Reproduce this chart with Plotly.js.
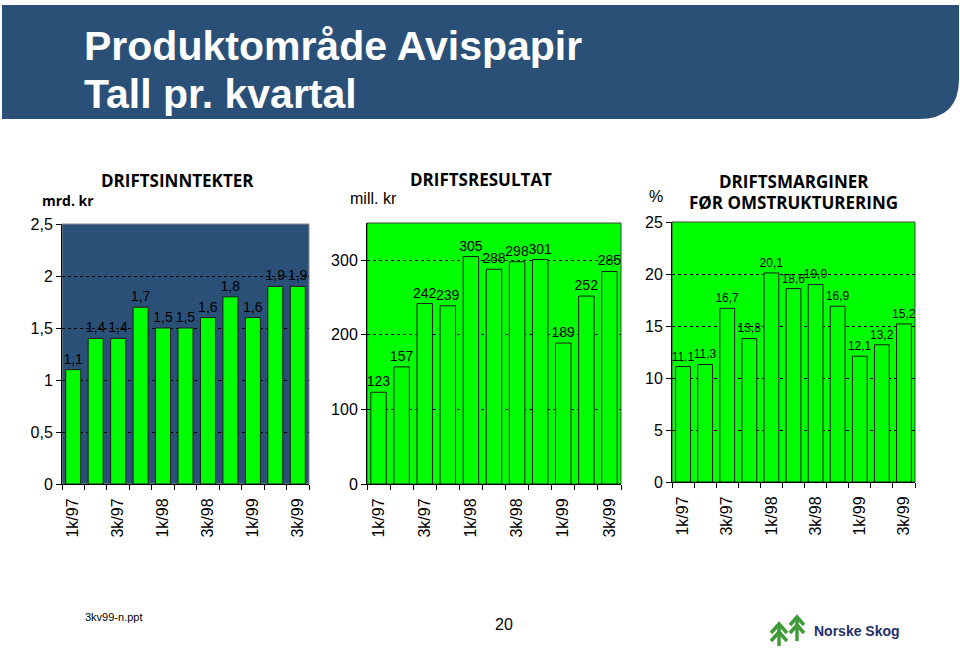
<!DOCTYPE html>
<html><head><meta charset="utf-8">
<script src="https://cdn.plot.ly/plotly-3.0.1.min.js"></script>
<style>html,body{margin:0;padding:0;background:#fff}</style>
</head><body>
<div id="chart" style="width:960px;height:648px"></div>
<script>
// ---- data ----
const quarters = ['1k/97','2k/97','3k/97','4k/97','1k/98','2k/98','3k/98','4k/98','1k/99','2k/99','3k/99'];
const quarterTicks = ['1k/97','','3k/97','','1k/98','','3k/98','','1k/99','','3k/99'];
const driftsinntekter = [1.1,1.4,1.4,1.7,1.5,1.5,1.6,1.8,1.6,1.9,1.9];
const driftsresultat = [123,157,242,239,305,288,298,301,189,252,285];
const driftsmarginer = [11.1,11.3,16.7,13.8,20.1,18.6,19.0,16.9,12.1,13.2,15.2];

// ---- helpers (pixel -> paper) ----
const W = 960, H = 648;
const px = x => x / W;
const py = y => 1 - y / H;
const P = (x, y) => px(x) + ',' + py(y);
const ARIAL = 'Liberation Sans, Arial, sans-serif';
const OPEN = 'Open Sans, Noto Sans, sans-serif';

function barTrace(y, xa, ya, fmt, fs) {
  return {
    type: 'bar', x: quarters, y: y, xaxis: xa, yaxis: ya,
    marker: {color: '#00ff00', line: {color: '#1a1a1a', width: 1}},
    texttemplate: fmt, textposition: 'outside', constraintext: 'none', cliponaxis: false,
    textfont: {family: ARIAL, size: fs, color: '#000'},
    hoverinfo: 'skip', showlegend: false
  };
}
function xAxis(domain, anchor) {
  return {
    domain: domain, anchor: anchor, type: 'category', range: [-0.5, quarters.length - 0.5],
    tickmode: 'array', tickvals: quarters, ticktext: quarterTicks, tickson: 'boundaries',
    ticks: 'outside', ticklen: 5, tickcolor: '#000', tickangle: -90, ticklabelstandoff: 7,
    showline: true, linecolor: '#000', linewidth: 1, showgrid: false, zeroline: false,
    tickfont: {family: ARIAL, size: 16, color: '#000'}, fixedrange: true
  };
}
function yAxis(domain, anchor, range, dtick) {
  return {
    domain: domain, anchor: anchor, range: range, tick0: 0, dtick: dtick,
    ticks: 'outside', ticklen: 5, tickcolor: '#000',
    showline: true, linecolor: '#000', linewidth: 1,
    showgrid: true, gridcolor: '#000', griddash: 'dot', gridwidth: 1, zeroline: false,
    tickfont: {family: ARIAL, size: 16, color: '#000'}, fixedrange: true
  };
}
function bgRect(xr, yr, fill, lineColor) {
  return {type: 'rect', xref: xr + ' domain', yref: yr + ' domain', x0: 0, x1: 1, y0: 0, y1: 1,
    fillcolor: fill, line: {color: lineColor, width: 1}, layer: 'below'};
}
function ann(text, x, y, size, family, opts) {
  return Object.assign({text: text, x: px(x), y: py(y), xref: 'paper', yref: 'paper',
    showarrow: false, xanchor: 'center', yanchor: 'middle',
    font: {family: family, size: size, color: '#000'}}, opts || {});
}

const data = [
  barTrace(driftsinntekter, 'x', 'y', '%{y:.1f}', 14),
  barTrace(driftsresultat, 'x2', 'y2', '%{y:.0f}', 14),
  barTrace(driftsmarginer, 'x3', 'y3', '%{y:.1f}', 12)
];

const banner = {
  type: 'path', xref: 'paper', yref: 'paper', layer: 'below',
  path: 'M' + P(2,5) + ' L' + P(959,5) + ' L' + P(959,79) + ' Q' + P(959,119) + ' ' + P(919,119) + ' L' + P(2,119) + ' Z',
  fillcolor: '#2a5078', line: {width: 0}
};
const logoGreen = '#3f9b37';
function logoPath(pts) {
  return {type: 'path', xref: 'paper', yref: 'paper', path: 'M' + pts.map(p => P(p[0], p[1])).join(' L'),
    line: {color: logoGreen, width: 3.5}};
}

const layout = {
  width: W, height: H, autosize: false,
  margin: {l: 0, r: 0, t: 0, b: 0},
  paper_bgcolor: '#ffffff', plot_bgcolor: 'rgba(0,0,0,0)',
  separators: ', ', bargap: 0.33, showlegend: false,
  xaxis: xAxis([px(62), px(309)], 'y'),
  yaxis: yAxis([py(484), py(224)], 'x', [0, 2.5], 0.5),
  xaxis2: xAxis([px(367), px(621)], 'y2'),
  yaxis2: yAxis([py(484), py(223)], 'x2', [0, 350], 100),
  xaxis3: xAxis([px(672), px(915)], 'y3'),
  yaxis3: yAxis([py(482), py(222)], 'x3', [0, 25], 5),
  shapes: [
    banner,
    bgRect('x', 'y', '#2a5078', '#8a8a8a'),
    bgRect('x2', 'y2', '#00ff00', '#404040'),
    bgRect('x3', 'y3', '#00ff00', '#404040'),
    logoPath([[771,633],[779,624],[787,633]]),
    logoPath([[771,641],[779,632],[787,641]]),
    logoPath([[779,624],[779,646]]),
    logoPath([[790,625],[797,617],[804,625]]),
    logoPath([[790,633],[797,625],[804,633]]),
    logoPath([[797,617],[797,641]])
  ],
  annotations: [
    ann('<b>Produktområde Avispapir</b>', 82, 46, 41, ARIAL, {xanchor: 'left', font: {family: ARIAL, size: 41, color: '#ffffff'}}),
    ann('<b>Tall pr. kvartal</b>', 82, 94, 41, ARIAL, {xanchor: 'left', font: {family: ARIAL, size: 41, color: '#ffffff'}}),
    ann('<b>DRIFTSINNTEKTER</b>', 177, 180, 17, OPEN),
    ann('<b>mrd. kr</b>', 68, 200, 14, OPEN),
    ann('<b>DRIFTSRESULTAT</b>', 481, 179, 17, OPEN),
    ann('mill. kr', 373, 198, 16, ARIAL),
    ann('<b>DRIFTSMARGINER</b>', 794, 181, 17, OPEN),
    ann('<b>FØR OMSTRUKTURERING</b>', 793, 203, 17, OPEN),
    ann('%', 656, 196, 16, ARIAL),
    ann('3kv99-n.ppt', 83, 617, 11, ARIAL, {xanchor: 'left'}),
    ann('20', 504, 624, 16, ARIAL),
    ann('<b>Norske Skog</b>', 812, 631, 14, ARIAL, {xanchor: 'left', font: {family: ARIAL, size: 14, color: '#1f2f6b'}})
  ]
};

Plotly.newPlot('chart', data, layout, {displayModeBar: false, staticPlot: true});
</script>
</body></html>
